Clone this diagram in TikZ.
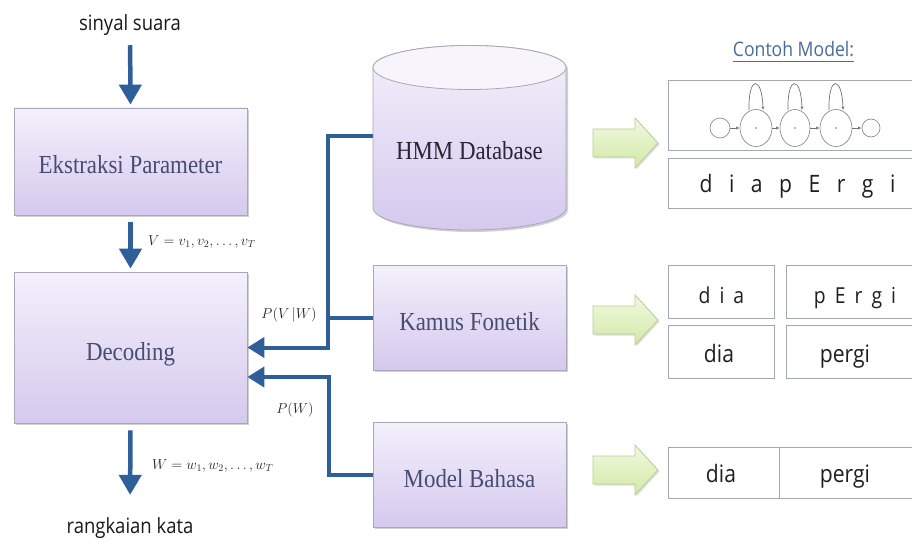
\documentclass[tikz,border=0pt]{standalone}
\usepackage{fontspec}
\newfontfamily\boxfont{Liberation Serif}[FakeStretch=0.88]
\newfontfamily\sansf{Open Sans}[FakeStretch=0.88]
\usetikzlibrary{arrows.meta,shadows,calc,shapes.geometric}
\definecolor{arrblue}{HTML}{2F5F98}
\definecolor{boxtop}{HTML}{F4F0FB}
\definecolor{boxbot}{HTML}{D5C9EE}
\definecolor{boxline}{HTML}{A9A6B8}
\definecolor{boxtext}{HTML}{474D72}
\definecolor{dbtext}{HTML}{262636}
\definecolor{gtop}{HTML}{F1F9E0}
\definecolor{gbot}{HTML}{D2E9A6}
\definecolor{gline}{HTML}{B9CC94}
\definecolor{panelline}{HTML}{A5A8B0}
\definecolor{contoh}{HTML}{4A6B9C}
\tikzset{
  procbox/.style={rectangle, draw=boxline, line width=0.8pt, top color=boxtop, bottom color=boxbot,
    text=boxtext, font=\boxfont\fontsize{26}{30}\selectfont, text height=25pt, text depth=0pt,
    drop shadow={shadow xshift=2pt, shadow yshift=-2pt, opacity=0.3, fill=black!60}},
  txt/.style={inner sep=2pt, font=\sansf\fontsize{21}{25}\selectfont, text=black!90},
  vflow/.style={draw=arrblue, line width=4.5pt, -{Triangle[width=22pt,length=20pt]}},
  hflow/.style={draw=arrblue, line width=4pt, -{Triangle[width=20pt,length=17pt]}},
  hline/.style={draw=arrblue, line width=4pt},
  panel/.style={rectangle, draw=panelline, line width=0.8pt, fill=white, inner sep=0pt},
  ptext/.style={inner sep=0pt, font=\sansf\fontsize{24}{28}\selectfont, text=black!88},
  mlab/.style={inner sep=1pt, font=\fontsize{14}{16}\selectfont, text=black!85},
  smallst/.style={circle, draw=black!50, line width=0.6pt, minimum size=20pt, inner sep=0pt},
  bigst/.style={ellipse, draw=black!50, line width=0.6pt, minimum width=32pt, minimum height=37pt, inner sep=0pt},
  trans/.style={draw=black!55, line width=0.7pt, -{Latex[length=3.5pt,width=3pt]}},
  garrow/.style={top color=gtop, bottom color=gbot, draw=gline, line width=0.8pt,
    drop shadow={shadow xshift=1.5pt, shadow yshift=-1.5pt, opacity=0.25, fill=black!50}}
}
\begin{document}
\begin{tikzpicture}[x=1pt,y=-1pt]
\useasboundingbox (0,0) rectangle (912,548);
\clip (0,0) rectangle (912,548);
\fill[white] (0,0) rectangle (912,548);

% left column
\node[txt, anchor=base] (sinyal) at (130,31) {sinyal suara};
\node[procbox, minimum width=233pt, minimum height=107pt] (ekstraksi) at (130.5,161.5) {Ekstraksi Parameter};
\node[procbox, minimum width=233pt, minimum height=151pt] (decoding) at (130.5,347.5) {Decoding};
\node[txt, anchor=base] (rangkaian) at (130,533) {rangkaian kata};

\draw[vflow, shorten <=7pt, shorten >=3pt] (sinyal) -- (ekstraksi.north);
\draw[vflow, shorten <=7pt, shorten >=3pt] (ekstraksi.south) -- (decoding.north);
\draw[vflow, shorten <=7pt, shorten >=20pt] (decoding.south) -- (rangkaian.north);

\node[mlab, anchor=base west] (vlab) at (147,245) {$V=v_1,v_2,\ldots,v_T$};
\node[mlab, anchor=base west] (wlab) at (151,469) {$W=w_1,w_2,\ldots,w_T$};

% middle column
\shade[top color=boxtop, bottom color=boxbot, draw=boxline, line width=0.8pt,
  drop shadow={shadow xshift=2pt, shadow yshift=-2pt, opacity=0.3, fill=black!60}]
  (373,67.5) -- (373,208) arc[start angle=180, end angle=0, x radius=96.5, y radius=22]
  -- (566,67.5) arc[start angle=0, end angle=-180, x radius=96.5, y radius=22] -- cycle;
\filldraw[fill=boxtop!70!white, draw=boxline, line width=0.8pt] (469.5,67.5) ellipse [x radius=96.5, y radius=22];
\node[inner sep=0pt, text=dbtext, font=\boxfont\fontsize{26}{30}\selectfont, text height=17pt, text depth=0pt] (hmm) at (469.5,151.5) {HMM Database};
\coordinate (hmmL) at (373,136);

\node[procbox, minimum width=193pt, minimum height=105pt] (kamus) at (469.5,317.5) {Kamus Fonetik};
\node[procbox, minimum width=193pt, minimum height=105pt] (model) at (469.5,474.5) {Model Bahasa};

\coordinate (j1) at ($(decoding.east)+(81,0)$);
\coordinate (d2) at ($(decoding.east)+(0,29.5)$);
\draw[hflow] (hmmL) -| (j1) -- (decoding.east);
\draw[hline] (kamus.west) -- (kamus.west -| j1);
\draw[hflow] (model.west) -- ++(-44,0) |- (d2);

\node[mlab, anchor=base] (pvw) at (289,318) {$P(V\,|W)$};
\node[mlab, anchor=base] (pw) at (295,413) {$P(W)$};

% green arrows
\foreach \c in {143,320,470}{
  \shade[garrow] (593,\c-14) -- (635,\c-14) -- (635,\c-25) -- (658,\c) -- (635,\c+25) -- (635,\c+14) -- (593,\c+14) -- cycle;
}

% right column
\node[inner sep=1pt, font=\sansf\fontsize{20}{24}\selectfont, text=contoh, anchor=base] (contohm) at (793.5,57) {Contoh Model:};
\draw[contoh, line width=1pt] ($(contohm.base west)+(1,5)$) -- ($(contohm.base east)+(-1,5)$);

\node[panel, minimum width=257pt, minimum height=70pt] (p1) at (796.5,115) {};
\node[panel, minimum width=257pt, minimum height=50pt] (p2) at (796.5,183) {};
\node[ptext, anchor=base] (t1) at (797.5,193) {\spaceskip=16.5pt d i a p E r g i};

\node[smallst] (s0) at (720,128) {};
\node[bigst] (s1) at (756,128) {};
\node[bigst, minimum width=30pt] (s2) at (795,128) {};
\node[bigst] (s3) at (836,128) {};
\node[smallst, minimum size=18pt] (s4) at (871,128) {};
\foreach \s in {s1,s2,s3}{
  \fill[black!55] (\s) circle [radius=0.9];
  \draw[trans] ($(\s.north)+(-7,1)$) .. controls ($(\s.north)+(-8,-34)$) and ($(\s.north)+(6,-34)$) .. ($(\s.north)+(7,1)$);
}
\draw[trans] (s0.east) -- (s1.west);
\draw[trans] (s1.east) -- (s2.west);
\draw[trans] (s2.east) -- (s3.west);
\draw[trans] (s3.east) -- (s4.west);

\node[panel, minimum width=106pt, minimum height=53pt] (k1) at (721,291.5) {};
\node[panel, minimum width=139pt, minimum height=53pt] (k2) at (855.5,291.5) {};
\node[panel, minimum width=106pt, minimum height=53pt] (k3) at (721,351.5) {};
\node[panel, minimum width=139pt, minimum height=53pt] (k4) at (855.5,351.5) {};
\node[ptext, anchor=base, font=\sansf\fontsize{22}{26}\selectfont] (kt1) at (721.5,303) {\spaceskip=9pt d i a};
\node[ptext, anchor=base, font=\sansf\fontsize{22}{26}\selectfont] (kt2) at (855,303) {\spaceskip=9pt p E r g i};
\node[ptext, anchor=base] (kt3) at (719,362) {dia};
\node[ptext, anchor=base] (kt4) at (845,362) {pergi};

\node[panel, minimum width=111pt, minimum height=51pt] (m1) at (723.5,472.5) {};
\node[panel, minimum width=146pt, minimum height=51pt] (m2) at (852,472.5) {};
\node[ptext, anchor=base] (mt1) at (721,482) {dia};
\node[ptext, anchor=base] (mt2) at (845,482) {pergi};
\end{tikzpicture}
\end{document}
